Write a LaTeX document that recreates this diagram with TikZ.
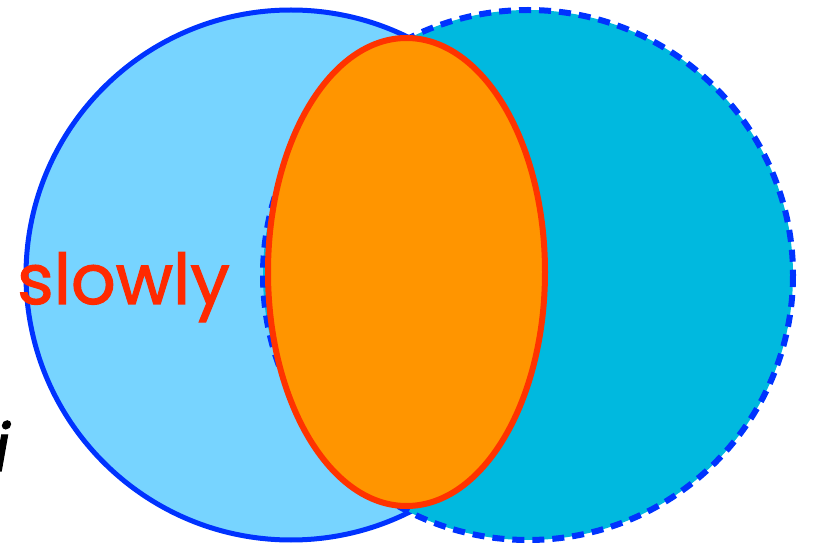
\documentclass[tikz,border=0pt]{standalone}
\usepackage{fontspec}
\newfontfamily\labelfont[FakeBold=1.6]{Poppins}
\definecolor{lightblue}{HTML}{77D4FF}
\definecolor{cyanfill}{HTML}{00B9DF}
\definecolor{borderblue}{HTML}{0033FF}
\definecolor{orangefill}{HTML}{FF9500}
\definecolor{redline}{HTML}{FF3300}
\definecolor{textred}{HTML}{FF2A00}
\tikzset{
  leftset/.style={fill=lightblue, draw=borderblue, line width=5pt},
  rightset/.style={fill=cyanfill, draw=borderblue, line width=6pt, dash pattern=on 12pt off 8pt},
  midset/.style={fill=orangefill, draw=redline, line width=6pt},
  wordlabel/.style={text=textred, font=\labelfont\fontsize{70}{80}\selectfont, inner sep=0pt},
}
\begin{document}
\begin{tikzpicture}[x=1pt,y=-1pt]
\useasboundingbox (0,0) rectangle (815,548);
\path[leftset] (291,275) circle[radius=265];
\path[rightset] (528,275) circle[radius=265];
\path[midset] (406.5,272) ellipse[x radius=138.5, y radius=234];
\node[wordlabel, anchor=base west] (slow) at (17,304) {slowly};
\node[text=black, font=\labelfont\itshape\fontsize{66}{74}\selectfont, inner sep=0pt, anchor=base east] (frag) at (10,471) {i};
\end{tikzpicture}
\end{document}
